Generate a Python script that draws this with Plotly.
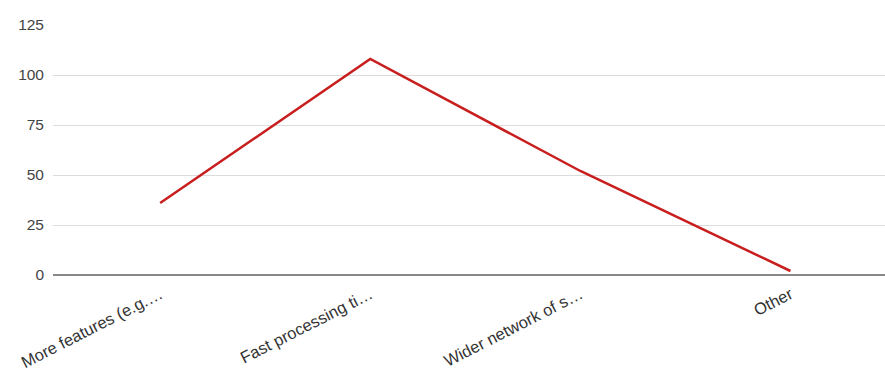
import plotly.graph_objects as go

# Categories (truncated labels as shown on the axis) and counts
categories = [
    "More features (e.g.\u2026",
    "Fast processing ti\u2026",
    "Wider network of s\u2026",
    "Other",
]
counts = [36, 108, 52, 2]

y_ticks = [0, 25, 50, 75, 100, 125]

fig = go.Figure()
fig.add_trace(go.Scatter(
    x=categories,
    y=counts,
    mode="lines",
    line=dict(color="#c81e1e", width=2.5),
    showlegend=False,
))

fig.update_layout(
    width=885,
    height=376,
    margin=dict(l=53, r=0, t=25, b=101),
    paper_bgcolor="white",
    plot_bgcolor="white",
    font=dict(family="Liberation Sans, Arial, sans-serif", color="#444444"),
)

fig.update_xaxes(
    type="category",
    range=[-0.51, 3.45],
    tickangle=-27,
    tickfont=dict(size=16.5, color="#333333"),
    showgrid=False,
    showline=False,
    zeroline=False,
    ticks="",
    ticklabelstandoff=6,
)

fig.update_yaxes(
    range=[0, 125],
    tickvals=y_ticks,
    tickfont=dict(size=15.5, color="#444444"),
    showgrid=True,
    gridcolor="#dcdcdc",
    gridwidth=1,
    zeroline=True,
    zerolinecolor="#888888",
    zerolinewidth=2,
    ticks="",
    ticklabelstandoff=8,
)

fig.write_html("out.html")
